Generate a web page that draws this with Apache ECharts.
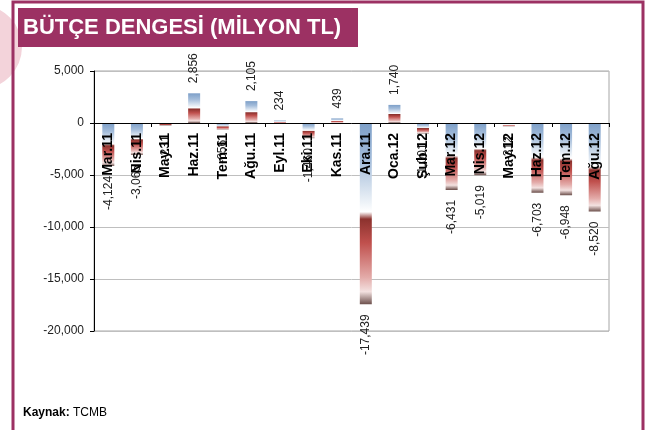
<!DOCTYPE html>
<html>
<head>
<meta charset="utf-8">
<script src="https://cdn.jsdelivr.net/npm/echarts@6/dist/echarts.min.js"></script>
<style>
html,body{margin:0;padding:0;background:#fff;}
#c{width:651px;height:430px;}
</style>
</head>
<body>
<div id="c"></div>
<script>
const titleText = 'BÜTÇE DENGESİ (MİLYON TL)';
const sourceLabel = 'Kaynak:';
const sourceName = 'TCMB';
const categories = ['Mar.11','Nis.11','May.11','Haz.11','Tem.11','Ağu.11','Eyl.11','Eki.11','Kas.11','Ara.11','Oca.12','Şub.12','Mar.12','Nis.12','May.12','Haz.12','Tem.12','Ağu.12'];
const values = [-4124,-3065,-231,2856,-656,2105,234,-1460,439,-17439,1740,-1001,-6431,-5019,-312,-6703,-6948,-8520];
const yMin = -20000, yMax = 5000, yInterval = 5000;

const fmt = v => Number(v).toLocaleString('en-US');
const FONT = '"Liberation Sans", Arial, sans-serif';

const barGradient = {
  type: 'linear', x: 0, y: 0, x2: 0, y2: 1,
  colorStops: [
    {offset: 0, color: '#7d9fc8'},
    {offset: 0.2, color: '#a3bcda'},
    {offset: 0.44, color: '#eef3f8'},
    {offset: 0.49, color: '#ffffff'},
    {offset: 0.53, color: '#8c322e'},
    {offset: 0.66, color: '#c0504d'},
    {offset: 0.85, color: '#e3aaa8'},
    {offset: 0.93, color: '#f3e1e0'},
    {offset: 1, color: '#6b4e4a'}
  ]
};

const chart = echarts.init(document.getElementById('c'), null, {renderer: 'canvas'});
chart.setOption({
  animation: false,
  backgroundColor: '#ffffff',
  graphic: [
    {type: 'circle', shape: {cx: -20, cy: 47, r: 42}, style: {fill: '#f3d3da'}, z: 0},
    {type: 'rect', shape: {x: 13, y: 2, width: 630, height: 450}, style: {fill: 'none', stroke: '#9c3163', lineWidth: 3}, z: 1},
    {type: 'rect', shape: {x: 18, y: 8, width: 340, height: 39}, style: {fill: '#9c3163'}, z: 2},
    {type: 'text', x: 23, y: 28, style: {text: titleText, fill: '#ffffff', font: 'bold 22px ' + FONT, verticalAlign: 'middle'}, z: 3},
    {type: 'text', x: 23, y: 413, style: {
      text: '{b|' + sourceLabel + '} ' + sourceName,
      font: '12px ' + FONT, fill: '#000', verticalAlign: 'middle',
      rich: {b: {fontWeight: 'bold', fontSize: 12, fontFamily: FONT, fill: '#000'}}
    }, z: 3}
  ],
  grid: {left: 94, right: 42, top: 71, bottom: 99, show: true, borderColor: '#a6a6a6', borderWidth: 1, containLabel: false},
  xAxis: {
    type: 'category',
    data: categories,
    boundaryGap: true,
    axisLine: {show: true, onZero: true, lineStyle: {color: '#000', width: 1}},
    axisTick: {show: true, inside: false, length: 4, alignWithLabel: false, lineStyle: {color: '#000'}},
    axisLabel: {show: false},
    splitLine: {show: false},
    z: 5
  },
  yAxis: {
    type: 'value',
    min: yMin, max: yMax, interval: yInterval,
    axisLine: {show: true, lineStyle: {color: '#000', width: 1}},
    axisTick: {show: true, inside: false, length: 4, lineStyle: {color: '#000'}},
    axisLabel: {formatter: fmt, color: '#222', fontSize: 12, margin: 10, fontFamily: FONT},
    splitLine: {show: true, lineStyle: {color: '#bfbfbf', width: 1}}
  },
  series: [{
    type: 'bar',
    barWidth: 12,
    barGap: '-100%',
    itemStyle: {color: barGradient},
    z: 2,
    data: values.map(v => ({
      value: v,
      label: {
        show: true,
        position: v >= 0 ? 'top' : 'bottom',
        distance: 10,
        rotate: 90,
        align: v >= 0 ? 'left' : 'right',
        verticalAlign: 'middle',
        formatter: p => fmt(p.value),
        color: '#222',
        fontSize: 12,
        fontFamily: FONT
      }
    }))
  }, {
    type: 'bar',
    barWidth: 12,
    barGap: '-100%',
    silent: true,
    z: 3,
    itemStyle: {color: 'rgba(0,0,0,0)'},
    data: categories.map(() => 0),
    label: {
      show: true,
      position: 'bottom',
      distance: 10,
      rotate: 90,
      align: 'right',
      verticalAlign: 'middle',
      formatter: p => p.name,
      color: '#000',
      fontSize: 14,
      fontWeight: 'bold',
      fontFamily: FONT
    }
  }]
});
</script>
</body>
</html>
